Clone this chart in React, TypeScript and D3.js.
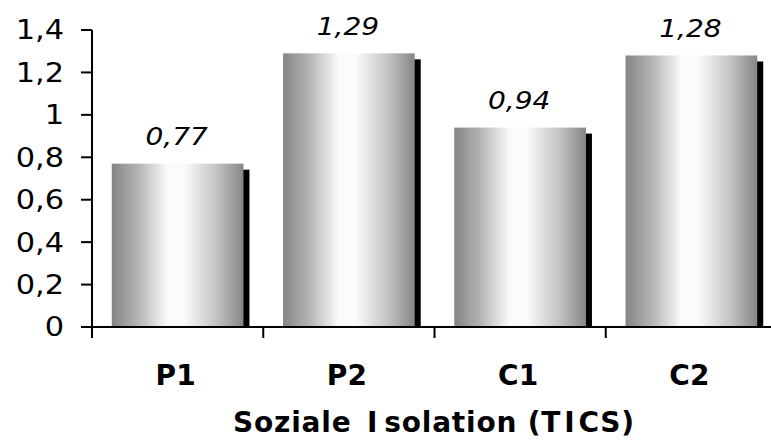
import React from "react";
import * as d3 from "d3";

const categories = ["P1", "P2", "C1", "C2"];
const values = [0.77, 1.29, 0.94, 1.28];
const valueLabels = ["0,77", "1,29", "0,94", "1,28"];
const yTicks = [0, 0.2, 0.4, 0.6, 0.8, 1, 1.2, 1.4];
const axisTitleParts = ["Soziale ", "I", "solation (T", "I", "CS)"];

const W = 771;
const H = 443;
const FONT = "Verdana, 'DejaVu Sans', sans-serif";
// regular-weight labels are set slightly wide
const WIDE = 1.17;

export default function App() {
  const x = d3
    .scaleBand<string>()
    .domain(categories)
    .range([92, 777])
    .paddingInner(0.231)
    .paddingOuter(0.1155);
  const y = d3.scaleLinear().domain([0, 1.4]).range([327, 30]);
  const step = x.step();
  const x0 = 92;
  const fmt = (v: number) => String(v).replace(".", ",");
  const shadow = 6;
  // extra room around the capital I glyphs of the title
  const titleGaps = [0, 5, 6, 3, 3];

  return (
    <svg
      width={W}
      height={H}
      style={{ position: "fixed", left: 0, top: 0, background: "#fff" }}
      fontFamily={FONT}
    >
      <defs>
        <linearGradient id="barGrad" x1="0" x2="1" y1="0" y2="0">
          <stop offset="0" stopColor="#858585" />
          <stop offset="0.2" stopColor="#b4b4b4" />
          <stop offset="0.42" stopColor="#fafafa" />
          <stop offset="0.55" stopColor="#fbfbfb" />
          <stop offset="0.8" stopColor="#c2c2c2" />
          <stop offset="1" stopColor="#868686" />
        </linearGradient>
      </defs>
      <rect width={W} height={H} fill="#fff" />

      {/* bars with drop shadow */}
      {categories.map((c, i) => {
        const bx = x(c)!;
        const by = y(values[i]);
        const bw = x.bandwidth();
        return (
          <g key={c}>
            <rect x={bx + shadow} y={by + shadow} width={bw} height={y(0) - by - shadow} fill="#000" />
            <rect x={bx} y={by} width={bw} height={y(0) - by} fill="url(#barGrad)" />
            <text
              transform={`translate(${bx + bw / 2 - 1},${by - 18.5}) scale(${WIDE},1)`}
              textAnchor="middle"
              fontSize={24}
              fontStyle="italic"
              fill="#000"
            >
              {valueLabels[i]}
            </text>
          </g>
        );
      })}

      {/* y axis */}
      <line x1={x0} x2={x0} y1={y(1.4)} y2={338} stroke="#000" strokeWidth={2} />
      {yTicks.map((t) => (
        <g key={t}>
          <line x1={81} x2={x0} y1={y(t)} y2={y(t)} stroke="#000" strokeWidth={2} />
          <text
            transform={`translate(64,${y(t)}) scale(${WIDE},1)`}
            dy="0.36em"
            textAnchor="end"
            fontSize={26}
            fill="#000"
          >
            {fmt(t)}
          </text>
        </g>
      ))}

      {/* x axis */}
      <line x1={81} x2={W} y1={y(0)} y2={y(0)} stroke="#000" strokeWidth={2} />
      {d3.range(categories.length + 1).map((i) => (
        <line key={i} x1={x0 + i * step} x2={x0 + i * step} y1={y(0)} y2={338} stroke="#000" strokeWidth={2} />
      ))}
      {categories.map((c) => (
        <text
          key={c}
          x={x(c)! + x.bandwidth() / 2 - 2}
          y={385}
          textAnchor="middle"
          fontSize={28}
          fontWeight="bold"
          fill="#000"
        >
          {c}
        </text>
      ))}
      <text x={434} y={432} textAnchor="middle" fontSize={28} fontWeight="bold" letterSpacing={0.8} fill="#000">
        {axisTitleParts.map((p, i) => (
          <tspan key={i} dx={titleGaps[i]}>
            {p}
          </tspan>
        ))}
      </text>
    </svg>
  );
}
